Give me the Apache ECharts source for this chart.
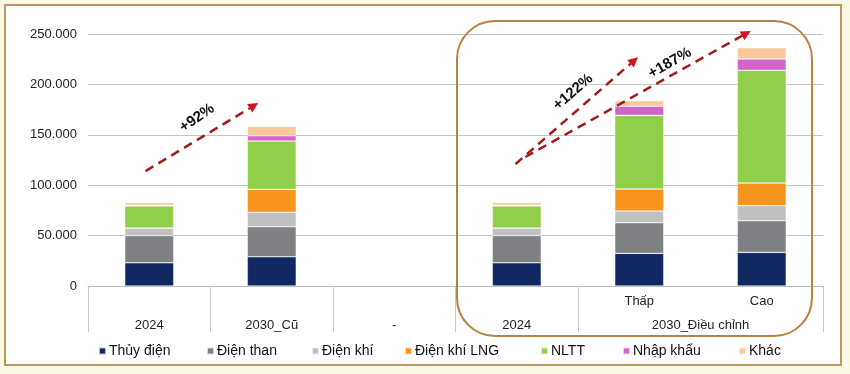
<!DOCTYPE html>
<html><head><meta charset="utf-8">
<script src="https://cdn.jsdelivr.net/npm/echarts@6/dist/echarts.min.js"></script>
<style>html,body{margin:0;padding:0;background:#fcf8e6;}#c{width:850px;height:374px;}</style>
</head><body><div id="c"></div>
<script>
// ---- data ----
const rowLabels = ['', '', '', '', 'Thấp', 'Cao'];
const groupLabels = ['2024', '2030_Cũ', '-', '2024', '2030_Điều chỉnh'];
const groupSpans = [1, 1, 1, 1, 2];
const seriesNames = ['Thủy điện', 'Điện than', 'Điện khí', 'Điện khí LNG', 'NLTT', 'Nhập khẩu', 'Khác'];
const thuyDien   = [23000, 29000, null, 23000, 32400, 33400];
const dienThan   = [27000, 29800, null, 27000, 30400, 31400];
const dienKhi    = [7500, 14300, null, 7500, 11600, 14900];
const dienKhiLNG = [0, 22800, null, 0, 21800, 22500];
const nltt       = [22000, 47900, null, 22000, 73100, 111800];
const nhapKhau   = [600, 5200, null, 600, 9000, 11200];
const khac       = [2900, 9400, null, 2900, 5500, 11200];
const growthLabels = ['+92%', '+122%', '+187%'];

// ---- styles / layout ----
const seriesData = [thuyDien, dienThan, dienKhi, dienKhiLNG, nltt, nhapKhau, khac];
const colors = ['#0f2862', '#7f8083', '#c0c0c0', '#f7941d', '#8fcf4a', '#d264c9', '#f9c99c'];
const legendLeft = [98, 206, 311, 404, 540, 622, 738];
const FONT = 'Arial, "Liberation Sans", sans-serif';

// group boundaries / centers for the 2nd label row
const bounds = [0];
groupSpans.forEach(s => bounds.push(bounds[bounds.length - 1] + s));
const centers = groupSpans.map((s, i) => bounds[i] + s / 2);

const chart = echarts.init(document.getElementById('c'), null, {renderer: 'canvas'});

const fmt = v => String(v).replace(/\B(?=(\d{3})+(?!\d))/g, '.');

const option = {
  backgroundColor: '#fcf8e6',
  animation: false,
  grid: {left: 88, right: 27, top: 34, bottom: 88, containLabel: false},
  legend: seriesNames.map((n, i) => ({
    data: [n], left: legendLeft[i], top: 344, icon: 'rect', itemWidth: 7, itemHeight: 7,
    itemGap: 0, padding: 0, textStyle: {fontFamily: FONT, fontSize: 14, color: '#111', padding: [0, 0, 0, -2]}
  })),
  xAxis: [
    {
      type: 'category', data: rowLabels, gridIndex: 0, position: 'bottom',
      axisLine: {show: true, lineStyle: {color: '#bdbdbd', width: 1}},
      axisTick: {show: false},
      axisLabel: {fontFamily: FONT, fontSize: 13, color: '#222', margin: 9, interval: 0}
    },
    {
      type: 'value', min: 0, max: bounds[bounds.length - 1], gridIndex: 0, position: 'bottom',
      axisLine: {show: false}, splitLine: {show: false},
      axisTick: {show: true, customValues: bounds, length: 46, lineStyle: {color: '#c8c8c8', width: 1}},
      axisLabel: {
        customValues: centers, margin: 33, fontFamily: FONT, fontSize: 13, color: '#222',
        formatter: v => { const k = centers.findIndex(c => Math.abs(c - v) < 1e-6); return k >= 0 ? groupLabels[k] : ''; }
      }
    }
  ],
  yAxis: {
    type: 'value', min: 0, max: 250000, interval: 50000,
    axisLine: {show: false}, axisTick: {show: false},
    axisLabel: {formatter: fmt, fontFamily: FONT, fontSize: 13, color: '#222', margin: 11},
    splitLine: {lineStyle: {color: '#c4c4c4', width: 1}}
  },
  series: seriesNames.map((n, i) => ({
    name: n, type: 'bar', stack: 'total', xAxisIndex: 0, barWidth: '40%',
    data: seriesData[i],
    itemStyle: {color: colors[i], borderColor: 'rgba(255,255,255,0.7)', borderWidth: 0.6}
  }))
};
chart.setOption(option);

// ---- annotations (in data space of the value x-axis 0..6 and the y-axis) ----
const arrowLayout = [
  {from: [0.47, 114000], to: [1.39, 181500]},
  {from: [3.49, 121000], to: [4.49, 227000]},
  {from: [3.57, 128000], to: [5.41, 253000]}
];
const labelLayout = [
  {at: [0.89, 166700], rot: 35},
  {at: [3.96, 192500], rot: 41},
  {at: [4.75, 221200], rot: 30}
];
const px = p => [chart.convertToPixel({xAxisIndex: 1}, p[0]), chart.convertToPixel({yAxisIndex: 0}, p[1])];

const g = [];
g.push({type: 'rect', z: -100, shape: {x: 5, y: 5, width: 836, height: 360},
  style: {fill: '#ffffff', stroke: '#bf9859', lineWidth: 2}});
g.push({type: 'rect', z: 50, shape: {x: 457, y: 21, width: 355, height: 315, r: 38},
  style: {fill: null, stroke: '#b5843f', lineWidth: 2}});
arrowLayout.forEach(a => {
  const p1 = px(a.from), p2 = px(a.to);
  const dx = p2[0] - p1[0], dy = p2[1] - p1[1];
  const L = Math.hypot(dx, dy), ux = dx / L, uy = dy / L;
  const hl = 10, hw = 5;
  const bx = p2[0] - ux * hl, by = p2[1] - uy * hl;
  g.push({type: 'line', z: 60, shape: {x1: p1[0], y1: p1[1], x2: bx, y2: by},
    style: {stroke: '#a01d1d', lineWidth: 2.5, lineDash: [9, 6]}});
  g.push({type: 'polygon', z: 61, shape: {points: [[p2[0], p2[1]], [bx - uy * hw, by + ux * hw], [bx + uy * hw, by - ux * hw]]},
    style: {fill: '#cf1424'}});
});
labelLayout.forEach((l, i) => {
  const p = px(l.at);
  g.push({type: 'text', z: 62, x: p[0], y: p[1], rotation: l.rot * Math.PI / 180,
    style: {text: growthLabels[i], font: 'bold 15px ' + FONT, fill: '#111', align: 'center', verticalAlign: 'middle'}});
});
chart.setOption({graphic: g});
</script>
</body></html>
